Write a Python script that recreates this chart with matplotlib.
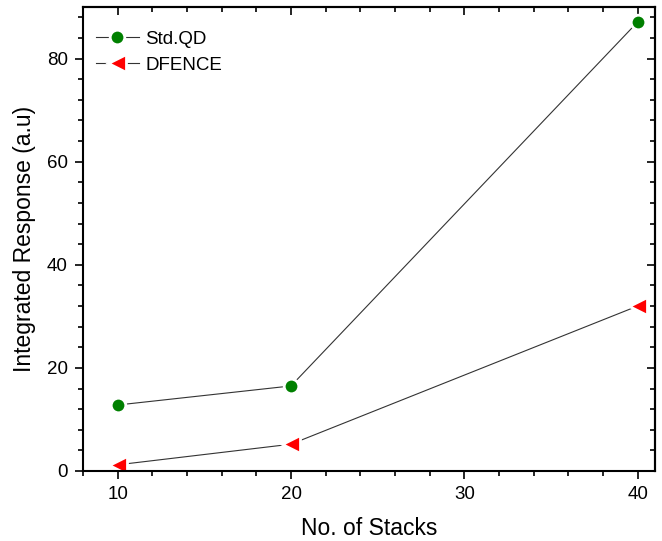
import matplotlib.pyplot as plt
from matplotlib.ticker import MultipleLocator

stacks = [10, 20, 40]
std_qd = [12.8, 16.5, 87.1]
dfence = [1.2, 5.2, 32.0]

plt.rcParams["font.family"] = ["Liberation Sans", "DejaVu Sans"]

fig = plt.figure(figsize=(6.62, 5.41), dpi=100)
ax = fig.add_axes([0.1254, 0.1294, 0.864, 0.8576])

ax.plot(stacks, std_qd, color="#333333", linewidth=0.8, marker="o", markersize=10.5,
        markerfacecolor="green", markeredgecolor="white", markeredgewidth=2, label="Std.QD")
ax.plot(stacks, dfence, color="#333333", linewidth=0.8, marker="<", markersize=13.5,
        markerfacecolor="red", markeredgecolor="white", markeredgewidth=2, label="DFENCE")

ax.set_xlim(8, 41)
ax.set_ylim(0, 90)
ax.xaxis.set_major_locator(MultipleLocator(10))
ax.xaxis.set_minor_locator(MultipleLocator(2))
ax.yaxis.set_major_locator(MultipleLocator(20))
ax.yaxis.set_minor_locator(MultipleLocator(4))

for s in ax.spines.values():
    s.set_linewidth(1.5)

ax.tick_params(which="both", direction="out", width=1.2, labelsize=13.5, top=False, right=False)
ax.tick_params(which="major", length=6, pad=5)
ax.tick_params(which="minor", length=3.5)

# mirrored ticks pointing inward on top and right
ax2 = ax.secondary_xaxis("top")
ax2.xaxis.set_major_locator(MultipleLocator(10))
ax2.xaxis.set_minor_locator(MultipleLocator(2))
ax2.tick_params(which="both", direction="in", width=1.2, labeltop=False)
ax2.tick_params(which="major", length=6)
ax2.tick_params(which="minor", length=3.5)
ax2.spines["top"].set_linewidth(1.5)
ay2 = ax.secondary_yaxis("right")
ay2.yaxis.set_major_locator(MultipleLocator(20))
ay2.yaxis.set_minor_locator(MultipleLocator(4))
ay2.tick_params(which="both", direction="in", width=1.2, labelright=False)
ay2.tick_params(which="major", length=6)
ay2.tick_params(which="minor", length=3.5)
ay2.spines["right"].set_linewidth(1.5)

ax.set_xlabel("No. of Stacks", fontsize=16.5, labelpad=10)
ax.set_ylabel("Integrated Response (a.u)", fontsize=16.5, labelpad=8)

leg = ax.legend(loc="upper left", frameon=False, fontsize=13.5, handlelength=2.3,
                handletextpad=0.35, labelspacing=0.45, borderaxespad=0.5,
                bbox_to_anchor=(-0.007, 0.985))

fig.savefig("out.png", dpi=100)
